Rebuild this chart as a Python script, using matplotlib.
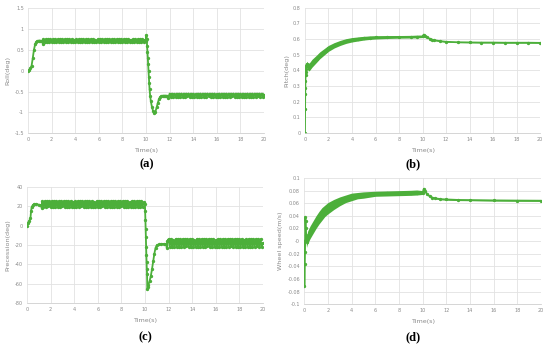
import numpy as np
import matplotlib
matplotlib.use("Agg")
import matplotlib.pyplot as plt
from matplotlib.ticker import MultipleLocator, FormatStrFormatter

GREEN = "#4caf3a"
GRID = "#e2e2e2"
TXT = "#8a8a8a"

# ---- (a) roll ----
roll_t0 = [0, 0.1, 0.2, 0.3, 0.4, 0.5, 0.6, 0.7, 0.8, 0.9, 1.0, 1.1, 1.2, 1.25]
roll_v0 = [0, 0.02, 0.06, 0.12, 0.3, 0.5, 0.63, 0.69, 0.71, 0.72, 0.72, 0.71, 0.7, 0.65]
roll_osc1 = [0.75, 0.68, 0.75, 0.68, 0.75, 0.69, 0.75, 0.68, 0.75, 0.68,
             0.75, 0.68, 0.75, 0.68, 0.75, 0.68, 0.75, 0.69, 0.75, 0.68,
             0.75, 0.68, 0.75, 0.68, 0.75, 0.68, 0.74, 0.68, 0.75, 0.68,
             0.75, 0.68, 0.75, 0.69, 0.75, 0.68, 0.75, 0.68, 0.75, 0.68,
             0.75, 0.68, 0.75, 0.68, 0.74, 0.68, 0.75, 0.68, 0.75, 0.68,
             0.75, 0.69, 0.75, 0.68, 0.75, 0.68, 0.75, 0.68, 0.75, 0.68,
             0.75, 0.68, 0.75, 0.68, 0.75, 0.68, 0.75, 0.69, 0.75, 0.68,
             0.75, 0.68, 0.75, 0.68, 0.74, 0.68, 0.75, 0.68, 0.75, 0.68,
             0.75, 0.68, 0.75, 0.68, 0.75, 0.68, 0.74]
roll_t1 = [10.0, 10.03, 10.06, 10.09, 10.12, 10.15, 10.18, 10.21, 10.24, 10.27,
           10.3, 10.35, 10.4, 10.5, 10.6, 10.7, 10.8, 10.9, 11.0, 11.1,
           11.2, 11.3, 11.4, 11.5, 11.6, 11.7, 11.8, 11.9]
roll_v1 = [0.72, 0.85, 0.75, 0.6, 0.45, 0.3, 0.15, 0.0, -0.15, -0.3,
           -0.45, -0.6, -0.72, -0.87, -0.97, -1.01, -0.98, -0.88, -0.77, -0.68,
           -0.63, -0.61, -0.6, -0.6, -0.6, -0.6, -0.61, -0.66]
roll_osc2 = [-0.55, -0.62, -0.55, -0.62, -0.56, -0.62, -0.55, -0.62, -0.55, -0.62,
             -0.55, -0.62, -0.55, -0.62, -0.55, -0.61, -0.55, -0.62, -0.55, -0.62,
             -0.55, -0.62, -0.56, -0.62, -0.55, -0.62, -0.55, -0.62, -0.55, -0.62,
             -0.55, -0.62, -0.55, -0.61, -0.55, -0.62, -0.55, -0.62, -0.55, -0.62,
             -0.56, -0.62, -0.55, -0.62, -0.55, -0.62, -0.55, -0.62, -0.55, -0.62,
             -0.55, -0.62, -0.55, -0.61, -0.55, -0.62, -0.55, -0.62, -0.55, -0.62,
             -0.55, -0.62, -0.55, -0.62, -0.56, -0.62, -0.55, -0.62, -0.55, -0.62,
             -0.55, -0.62, -0.55, -0.62, -0.55, -0.61, -0.55, -0.62, -0.55, -0.62,
             -0.58]

# ---- (c) precession ----
prec_t0 = [0, 0.1, 0.2, 0.3, 0.35, 0.4, 0.5, 0.6, 0.8, 1.0, 1.2, 1.25]
prec_v0 = [0, 3, 5, 8, 15, 19, 21, 22, 22, 21.5, 21, 18]
prec_osc1 = [25, 19, 25, 19, 25, 20, 25, 19, 25, 19,
             25, 19, 25, 19, 25, 19, 25, 20, 25, 19,
             25, 19, 25, 19, 25, 19, 24, 19, 25, 19,
             25, 19, 25, 20, 25, 19, 25, 19, 25, 19,
             25, 19, 25, 19, 24, 19, 25, 19, 25, 19,
             25, 20, 25, 19, 25, 19, 25, 19, 25, 19,
             25, 19, 25, 19, 25, 19, 25, 20, 25, 19,
             25, 19, 25, 19, 24, 19, 25, 19, 25, 19,
             25, 19, 25, 19, 25, 19, 24]
prec_t1 = [10.0, 10.02, 10.04, 10.06, 10.08, 10.1, 10.12, 10.14, 10.16, 10.18,
           10.2, 10.25, 10.3, 10.4, 10.5, 10.6, 10.7, 10.8, 10.9, 11.0,
           11.2, 11.4, 11.6, 11.8, 11.85, 11.9]
prec_v1 = [22, 15, 6, -4, -12, -22, -30, -38, -45, -50,
           -65, -63, -61, -57, -52, -45, -37, -29, -23, -20.5,
           -19.5, -19, -19, -19, -23, -16]
prec_osc2 = [-14, -22, -14, -22, -15, -22, -14, -22, -14, -22,
             -14, -22, -14, -22, -14, -21, -14, -22, -14, -22,
             -14, -22, -15, -22, -14, -22, -14, -22, -14, -22,
             -14, -22, -14, -21, -14, -22, -14, -22, -14, -22,
             -15, -22, -14, -22, -14, -22, -14, -22, -14, -22,
             -14, -22, -14, -21, -14, -22, -14, -22, -14, -22,
             -14, -22, -14, -22, -15, -22, -14, -22, -14, -22,
             -14, -22, -14, -22, -14, -21, -14, -22, -14, -22,
             -18]

# ---- (b) pitch ----
pitch_t = [0, 0.01, 0.02, 0.03, 0.04, 0.05, 0.06, 0.08, 0.1, 0.15, 0.2, 0.3, 0.4,
           0.5, 0.6, 0.8, 1.0, 1.25, 1.5, 1.75, 2.0, 2.5, 3.0, 3.5, 4.0, 4.5, 5.0,
           5.5, 6, 7, 8, 9, 9.5, 10.0, 10.1, 10.2, 10.4, 10.6, 10.8, 11, 11.5,
           12, 13, 14, 15, 16, 17, 18, 19, 20]
pitch_v = [0, 0.15, 0.25, 0.29, 0.33, 0.37, 0.39, 0.41, 0.43, 0.44, 0.43, 0.42,
           0.425, 0.435, 0.445, 0.46, 0.475, 0.495, 0.51, 0.525, 0.54, 0.56,
           0.575, 0.587, 0.595, 0.6, 0.605, 0.608, 0.61, 0.612, 0.613, 0.614,
           0.615, 0.616, 0.628, 0.62, 0.61, 0.602, 0.596, 0.592, 0.586, 0.582,
           0.579, 0.578, 0.577, 0.577, 0.576, 0.576, 0.576, 0.575]
pitch_hw = [0, 0, 0, 0, 0, 0, 0, 0, 0.012, 0.018, 0.022, 0.025, 0.025,
            0.025, 0.025, 0.024, 0.023, 0.022, 0.021, 0.02, 0.019, 0.017,
            0.016, 0.015, 0.014, 0.013, 0.012, 0.011, 0.01, 0.009, 0.008, 0.008,
            0.008, 0.007, 0.005, 0.004, 0.003, 0.003, 0.002, 0.002, 0.002, 0.002,
            0.002, 0.002, 0.002, 0.002, 0.002, 0.002, 0.002, 0.002]

# ---- (d) wheel speed ----
wheel_t = [0, 0.02, 0.04, 0.06, 0.08, 0.1, 0.12, 0.14, 0.16, 0.18, 0.2, 0.25,
           0.3, 0.4, 0.5, 0.75, 1.0, 1.25, 1.5, 1.75, 2.0, 2.5, 3.0, 3.5, 4.0,
           4.5, 5.0, 6, 7, 8, 9, 9.5, 10.0, 10.1, 10.2, 10.4, 10.6, 10.8, 11,
           11.5, 12, 13, 14, 16, 18, 20]
wheel_v = [0, -0.071, -0.036, -0.018, 0.0, 0.038, 0.032, 0.02, 0.01, 0.002,
           -0.002, 0.003, 0.006, 0.01, 0.014, 0.022, 0.03, 0.037, 0.043, 0.048,
           0.052, 0.058, 0.063, 0.067, 0.07, 0.072, 0.073, 0.075, 0.0755, 0.076,
           0.0765, 0.077, 0.077, 0.083, 0.079, 0.074, 0.071, 0.069, 0.068,
           0.0665, 0.066, 0.0652, 0.065, 0.0645, 0.0642, 0.064]
wheel_hw = [0, 0, 0, 0, 0, 0, 0, 0, 0.005, 0.007, 0.008, 0.009, 0.01, 0.01,
            0.01, 0.01, 0.01, 0.01, 0.01, 0.009, 0.009, 0.008, 0.007, 0.006,
            0.006, 0.005, 0.005, 0.004, 0.004, 0.004, 0.004, 0.004, 0.003, 0.002,
            0.002, 0.001, 0.001, 0.001, 0.001, 0.001, 0.001, 0.001, 0.001, 0.001,
            0.001, 0.001]

roll_t = roll_t0 + list(np.round(np.arange(1.3, 9.95, 0.1), 2)) + roll_t1 + list(np.round(np.arange(12.0, 20.05, 0.1), 2))
roll_v = roll_v0 + roll_osc1 + roll_v1 + roll_osc2
prec_t = prec_t0 + list(np.round(np.arange(1.3, 9.95, 0.1), 2)) + prec_t1 + list(np.round(np.arange(12.0, 20.05, 0.1), 2))
prec_v = prec_v0 + prec_osc1 + prec_v1 + prec_osc2


def style(ax, ylim, ystep, ylabel):
    ax.set_xlim(0, 20)
    ax.set_ylim(*ylim)
    ax.xaxis.set_major_locator(MultipleLocator(2))
    ax.yaxis.set_major_locator(MultipleLocator(ystep))
    ax.yaxis.set_major_formatter(plt.FuncFormatter(lambda v, p: "%g" % round(v, 4)))
    ax.grid(True, color=GRID, lw=0.6)
    ax.set_axisbelow(True)
    for s in ["top", "right", "left"]:
        ax.spines[s].set_visible(False)
    ax.spines["bottom"].set_color("#cfcfcf")
    ax.spines["bottom"].set_linewidth(0.6)
    ax.tick_params(length=0, labelsize=3.5, labelcolor=TXT, pad=3)
    ax.set_xlabel("Time(s)", fontsize=4.6, color=TXT, labelpad=4)
    ax.set_ylabel(ylabel, fontsize=4.6, color=TXT, labelpad=3)


fig = plt.figure(figsize=(5.5, 3.48), dpi=100)
ax_a = fig.add_axes([0.051, 0.617, 0.429, 0.36])
ax_b = fig.add_axes([0.5545, 0.618, 0.4275, 0.36])
ax_c = fig.add_axes([0.049, 0.129, 0.429, 0.3345])
ax_d = fig.add_axes([0.553, 0.126, 0.431, 0.3625])

ax_a.plot(roll_t, roll_v, color=GREEN, lw=1.3, marker="o", ms=1.4)
style(ax_a, (-1.5, 1.5), 0.5, "Roll(deg)")

pt = np.array(pitch_t)
pv = np.array(pitch_v)
ph = np.array(pitch_hw)
ax_b.fill_between(pt, pv - ph, pv + ph, color=GREEN, lw=0)
ax_b.plot(pt, pv, color=GREEN, lw=1.3, marker="o", ms=1.4)
style(ax_b, (0, 0.8), 0.1, "Pitch(deg)")

ax_c.plot(prec_t, prec_v, color=GREEN, lw=1.3, marker="o", ms=1.4)
style(ax_c, (-80, 40), 20, "Precession(deg)")

wt = np.array(wheel_t)
wv = np.array(wheel_v)
wh = np.array(wheel_hw)
ax_d.fill_between(wt, wv - wh, wv + wh, color=GREEN, lw=0)
ax_d.plot(wt, wv, color=GREEN, lw=1.3, marker="o", ms=1.4)
style(ax_d, (-0.1, 0.1), 0.02, "Wheel speed(m/s)")

lab = dict(fontsize=9, fontweight="bold", family="Liberation Serif", ha="center", va="center")
fig.text(0.266, 0.527, "(a)", **lab)
fig.text(0.751, 0.527, "(b)", **lab)
fig.text(0.264, 0.032, "(c)", **lab)
fig.text(0.751, 0.032, "(d)", **lab)

fig.savefig("out.png", dpi=100)
